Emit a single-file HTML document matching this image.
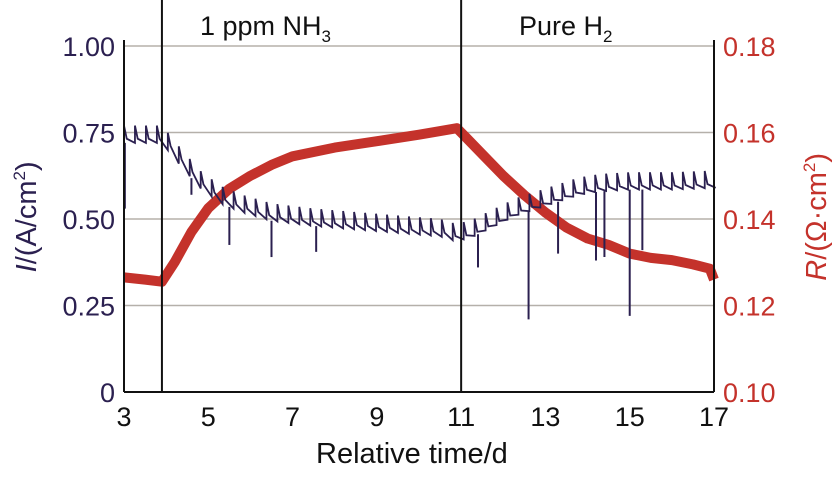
<!DOCTYPE html>
<html><head><meta charset="utf-8"><style>
body{margin:0;background:#fff;}
svg{display:block;font-family:"Liberation Sans",sans-serif;}
</style></head><body>
<svg id="chart" width="837" height="482" viewBox="0 0 837 482">
<g id="grid"></g>
<g id="series"></g>
<g id="axes"></g>
</svg>
<script>
const xTicks=[3,5,7,9,11,13,15,17];
const leftTicks=[0,0.25,0.5,0.75,1.0];
const leftTickLabels=["0","0.25","0.50","0.75","1.00"];
const rightTicks=[0.10,0.12,0.14,0.16,0.18];
const rightTickLabels=["0.10","0.12","0.14","0.16","0.18"];
const eventDays=[3.9,11.0];
const eventLabels=["1 ppm NH","Pure H"];
const eventSubs=["3","2"];
const currentDays=[3.0,3.9,4.3,4.8,5.3,5.8,6.5,7.5,8.5,9.5,10.5,10.9,11.3,11.8,12.3,12.8,13.3,13.8,14.3,15.0,16.0,17.0];
const currentVals=[0.72,0.72,0.66,0.59,0.545,0.52,0.495,0.48,0.47,0.46,0.45,0.435,0.45,0.48,0.51,0.53,0.55,0.57,0.58,0.585,0.585,0.59];
const dropDays=[3.02,4.6,5.5,6.5,7.56,11.4,12.6,13.3,14.2,14.4,15.0,15.3];
const dropVals=[0.53,0.57,0.425,0.39,0.405,0.36,0.21,0.40,0.38,0.39,0.22,0.41];
const resDays=[3.0,3.5,3.9,4.2,4.6,5.0,5.5,6.0,6.5,7.0,8.0,9.0,10.0,10.9,11.1,11.5,12.0,12.5,13.0,13.5,14.0,14.5,15.0,15.5,16.0,16.5,16.9,17.0];
const resVals=[0.1265,0.126,0.1255,0.130,0.137,0.1425,0.147,0.150,0.1525,0.1545,0.1565,0.158,0.1595,0.161,0.159,0.155,0.150,0.1455,0.1415,0.138,0.1355,0.134,0.132,0.131,0.1305,0.1295,0.1285,0.126];

const X0=124,X1=714,YT=46,YB=392;
const xs=d=>X0+(d-3)/(17-3)*(X1-X0);
const yl=v=>YB-v/1.0*(YB-YT);
const yr=v=>YB-(v-0.10)/(0.08)*(YB-YT);
const NS="http://www.w3.org/2000/svg";
function mk(tag,attrs,parent){const e=document.createElementNS(NS,tag);for(const k in attrs)e.setAttribute(k,attrs[k]);parent.appendChild(e);return e;}
const grid=document.getElementById('grid'),series=document.getElementById('series'),axes=document.getElementById('axes');
const navy="#2b2050",red="#c4322b";
leftTicks.forEach((t,i)=>{if(t===0)return;const l=mk('line',{x1:X0,x2:X1,y1:yl(t),y2:yl(t),stroke:"#b5b0aa","stroke-width":1.5},grid);

});
function interp(ds,vs,d){if(d<=ds[0])return vs[0];for(let i=1;i<ds.length;i++){if(d<=ds[i]){const f=(d-ds[i-1])/(ds[i]-ds[i-1]);return vs[i-1]+f*(vs[i]-vs[i-1]);}}return vs[vs.length-1];}
let rp=resDays.map((d,i)=>xs(d).toFixed(1)+","+yr(resVals[i]).toFixed(1)).join(" ");
const rl=mk('polyline',{points:rp,fill:"none",stroke:red,"stroke-width":10,"stroke-linejoin":"round"},series);


let pts=[];const per=0.26;
for(let t=3.0;t<17.0-1e-6;t+=per){const b0=interp(currentDays,currentVals,t);const top=b0+0.05;
pts.push(xs(t)+","+yl(top));const b1=interp(currentDays,currentVals,t+per);pts.push(xs(t+per*0.25)+","+yl(b0+0.012));pts.push(xs(t+per)+","+yl(b1));}
const cl=mk('polyline',{points:pts.join(" "),fill:"none",stroke:navy,"stroke-width":1.8},series);


dropDays.forEach((d,i)=>{const l=mk('line',{x1:xs(d),x2:xs(d),y1:yl(interp(currentDays,currentVals,d)),y2:yl(dropVals[i]),stroke:navy,"stroke-width":2},series);

});
eventDays.forEach((d,i)=>{const l=mk('line',{x1:xs(d),x2:xs(d),y1:0,y2:YB,stroke:"#111","stroke-width":2},axes);


const tx=mk('text',{x:i==0?200:519,y:35,"font-size":27,fill:"#111"},axes);


tx.textContent=eventLabels[i];const s=mk('tspan',{dy:7,"font-size":17},tx);s.textContent=eventSubs[i];});
[[X0,X0,YT-6,YB],[X1,X1,YT-6,YB],[X0,X1,YB,YB]].forEach(a=>{const l=mk('line',{x1:a[0],x2:a[1],y1:a[2],y2:a[3],stroke:"#111","stroke-width":2},axes);

});
xTicks.forEach(t=>{const tx=mk('text',{x:xs(t),y:426,"font-size":27,"text-anchor":"middle",fill:"#111"},axes);


tx.textContent=t;});
leftTicks.forEach((t,i)=>{const tx=mk('text',{x:115,y:yl(t)+10,"font-size":27,"text-anchor":"end",fill:navy},axes);


tx.textContent=leftTickLabels[i];});
rightTicks.forEach((t,i)=>{const tx=mk('text',{x:723,y:yr(t)+10,"font-size":27,fill:red},axes);


tx.textContent=rightTickLabels[i];});
</script>
<div style="position:absolute;left:0;top:0;width:837px;height:482px;pointer-events:none;font-family:'Liberation Sans',sans-serif;">
<div style="position:absolute;left:316px;top:438px;font-size:29px;color:#111;">Relative time/d</div>
<div style="position:absolute;left:-78px;top:200px;width:210px;text-align:center;transform:rotate(-90deg);font-size:29px;color:#2b2050;white-space:nowrap;"><i>I</i>/(A/cm<sup style="font-size:17px">2</sup>)</div>
<div style="position:absolute;left:712px;top:200px;width:210px;text-align:center;transform:rotate(-90deg);font-size:29px;color:#c4322b;white-space:nowrap;"><i>R</i>/(Ω·cm<sup style="font-size:17px">2</sup>)</div>
</div>
</body></html>
